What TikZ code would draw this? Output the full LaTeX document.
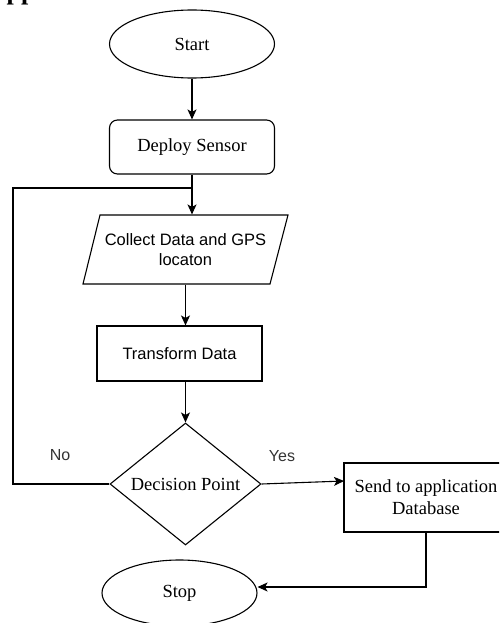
\documentclass[tikz,border=0pt]{standalone}
\usepackage{fontspec}
\setmainfont{Liberation Serif}
\newfontfamily\sansf{Liberation Sans}
\usetikzlibrary{shapes.geometric,arrows.meta}
\begin{document}
\begin{tikzpicture}[x=1pt,y=-1pt,
  line width=1.1pt,
  flowarrow/.style={-{Stealth[length=10pt,width=9pt,inset=2.5pt]}},
  serifbox/.style={font=\fontsize{18.5}{22}\selectfont, align=center, inner sep=0pt},
  sansbox/.style={font=\sansf\fontsize{16.5}{20}\selectfont, align=center, inner sep=0pt},
  terminal/.style={serifbox, draw, ellipse},
  procbox/.style={draw, rectangle, inner sep=0pt},
  lbl/.style={font=\sansf\fontsize{16}{19}\selectfont, inner sep=0pt, text=black!80}
]
\useasboundingbox (0,0) rectangle (499,623);
\clip (0,0) rectangle (499,623);

% heading remnant above the chart
\node[anchor=base west, inner sep=0pt, font=\bfseries\fontsize{26}{30}\selectfont] (heading) at (6,0) {pp};

% shapes
\node[terminal, minimum width=165pt, minimum height=68pt] (start) at (192,44) {Start};
\node[serifbox, procbox, rounded corners=8pt, minimum width=165pt, minimum height=54pt] (deploy) at (192,147) {Deploy Sensor};
\node[sansbox, minimum width=170pt, minimum height=69pt] (collect) at (185.5,249.5) {Collect Data and GPS\\locaton};
\draw (100,215) -- (288,215) -- (270,284) -- (83,284) -- cycle;
\node[sansbox, procbox, minimum width=165pt, minimum height=55pt] (transform) at (179.5,353.5) {Transform Data};
\node[serifbox, draw, diamond, minimum width=151pt, minimum height=122pt] (decision) at (185.5,484) {Decision Point};
\node[serifbox, procbox, minimum width=164pt, minimum height=69pt] (send) at (426,497.5) {Send to application\\Database};
\node[terminal, minimum width=155pt, minimum height=66pt] (stop) at (179.5,593) {Stop};

% helper points
\coordinate (merge) at (192,188);
\coordinate (loopx) at (13,0);
\coordinate (sendin) at (344,481);

% connectors
\draw[flowarrow] (start) -- (deploy);
\draw[flowarrow] (deploy.south) -- (deploy.south |- collect.north);
\draw[flowarrow] (collect.south) -- (collect.south |- transform.north);
\draw[flowarrow] (collect.south |- transform.south) -- (decision.north);
\draw (decision.west) -- (decision.west -| loopx) |- (merge);
\draw[flowarrow] (decision.east) -- (sendin);
\draw[flowarrow] (send.south) |- ([yshift=6pt]stop.east);

% branch labels
\node[lbl] (nolbl) at (60,455) {No};
\node[lbl] (yeslbl) at (282,456) {Yes};
\end{tikzpicture}
\end{document}
